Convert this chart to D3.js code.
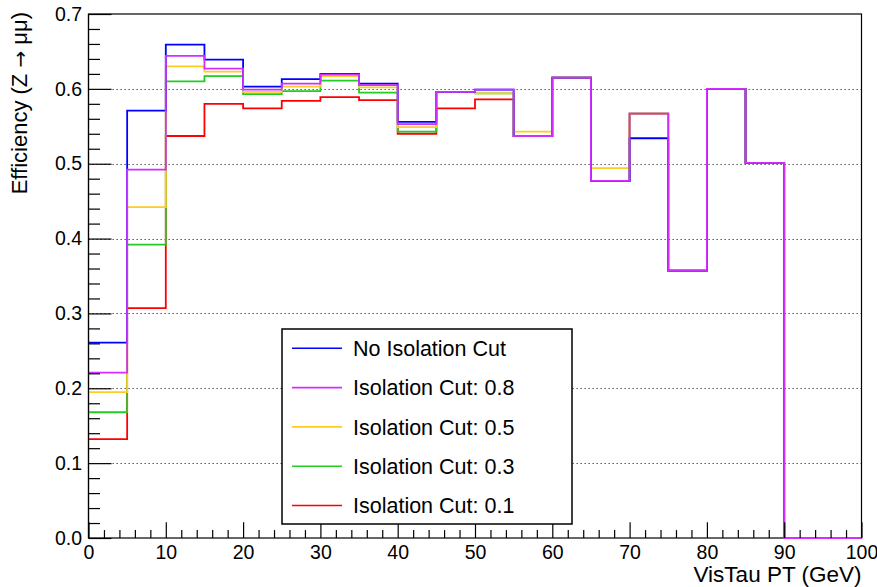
<!DOCTYPE html>
<html>
<head>
<meta charset="utf-8">
<script src="https://cdn.jsdelivr.net/npm/d3@7"></script>
<style>
  html, body { margin: 0; padding: 0; background: #fff; }
  svg { display: block; font-family: "Liberation Sans", Arial, Helvetica, sans-serif; }
</style>
</head>
<body>
<svg id="chart" width="877" height="587"></svg>
<script>
// ---- Data ----
const binEdges = [0,5,10,15,20,25,30,35,40,45,50,55,60,65,70,75,80,85,90,95,100];
const noIsoCut = [0.261,0.571,0.659,0.639,0.603,0.613,0.620,0.607,0.556,0.596,0.599,0.537,0.615,0.477,0.534,0.357,0.600,0.501,0,0];
const isoCut08 = [0.221,0.492,0.644,0.627,0.599,0.607,0.619,0.605,0.553,0.596,0.599,0.537,0.615,0.477,0.567,0.357,0.600,0.501,0,0];
const isoCut05 = [0.195,0.442,0.630,0.623,0.596,0.603,0.617,0.602,0.549,0.596,0.594,0.543,0.615,0.494,0.567,0.357,0.600,0.501,0,0];
const isoCut03 = [0.168,0.392,0.610,0.617,0.593,0.597,0.611,0.595,0.543,0.596,0.594,0.537,0.615,0.477,0.567,0.357,0.600,0.501,0,0];
const isoCut01 = [0.132,0.307,0.537,0.580,0.574,0.584,0.589,0.585,0.540,0.574,0.586,0.537,0.615,0.477,0.567,0.357,0.600,0.501,0,0];
const seriesNames = ["No Isolation Cut","Isolation Cut: 0.8","Isolation Cut: 0.5","Isolation Cut: 0.3","Isolation Cut: 0.1"];
const seriesColors = ["#0000ff","#d22eff","#ffcc22","#22cc22","#ff0000"];
const yTicks = [0,0.1,0.2,0.3,0.4,0.5,0.6,0.7];
const xTicks = [0,10,20,30,40,50,60,70,80,90,100];
const xTitle = "VisTau PT (GeV)";
const yTitleParts = ["Efficiency (Z ", "\u2192", " \u03bc\u03bc)"];

const seriesValues = [noIsoCut, isoCut08, isoCut05, isoCut03, isoCut01];
// draw order (bottom to top)
const drawOrder = [4,3,2,0,1];

const svg = d3.select("#chart");
const L = 88.5, R = 861.5, T = 14, B = 538;
const x = d3.scaleLinear().domain([0,100]).range([L,R]);
const y = d3.scaleLinear().domain([0,0.7]).range([B,T]);

// grid (horizontal dotted)
svg.append("g").selectAll("line")
  .data(yTicks.filter(v => v > 0 && v < 0.7))
  .join("line")
  .attr("x1", L).attr("x2", R)
  .attr("y1", d => Math.round(y(d)) + 0.5).attr("y2", d => Math.round(y(d)) + 0.5)
  .attr("stroke", "#444").attr("stroke-width", 1.2)
  .attr("stroke-dasharray", "1.3,2.7");

// frame
svg.append("rect")
  .attr("x", L).attr("y", T).attr("width", R - L).attr("height", B - T)
  .attr("fill", "none").attr("stroke", "#000").attr("stroke-width", 1.2);

// histograms
function histPath(vals) {
  let p = "";
  vals.forEach((v, i) => {
    p += `${i === 0 ? "M" : "L"}${x(binEdges[i])},${y(v)}L${x(binEdges[i+1])},${y(v)}`;
  });
  p += `L${x(binEdges[binEdges.length-1])},${y(0)}`;
  return p;
}
svg.append("g").selectAll("path")
  .data(drawOrder)
  .join("path")
  .attr("d", i => histPath(seriesValues[i]))
  .attr("fill", "none")
  .attr("stroke", i => seriesColors[i])
  .attr("stroke-width", 1.8);

// y axis
const yMinor = d3.range(0, 0.7001, 0.02).filter(v => Math.abs(v*10 - Math.round(v*10)) > 1e-6);
const yAx = svg.append("g").attr("transform", `translate(${L},0)`)
  .call(d3.axisLeft(y).tickValues(yTicks).tickSize(-23).tickPadding(6.5).tickFormat(d3.format(".1f")));
yAx.select(".domain").remove();
yAx.selectAll("text").attr("font-size", 19.5).attr("fill", "#000").attr("font-family", "Liberation Sans, Arial, sans-serif");
yAx.selectAll("line").attr("stroke", "#000").attr("stroke-width", 1.2);
const yAxm = svg.append("g").attr("transform", `translate(${L},0)`)
  .call(d3.axisLeft(y).tickValues(yMinor).tickSize(-11.5).tickFormat(""));
yAxm.select(".domain").remove();
yAxm.selectAll("line").attr("stroke", "#000").attr("stroke-width", 1.2);

// x axis
const xMinor = d3.range(0, 100.001, 2).filter(v => v % 10 !== 0);
const xAx = svg.append("g").attr("transform", `translate(0,${B})`)
  .call(d3.axisBottom(x).tickValues(xTicks).tickSize(-15.7).tickPadding(7.5).tickFormat(d3.format("d")));
xAx.select(".domain").remove();
xAx.selectAll("text").attr("font-size", 19.5).attr("fill", "#000").attr("font-family", "Liberation Sans, Arial, sans-serif");
xAx.selectAll("line").attr("stroke", "#000").attr("stroke-width", 1.2);
const xAxm = svg.append("g").attr("transform", `translate(0,${B})`)
  .call(d3.axisBottom(x).tickValues(xMinor).tickSize(-7.9).tickFormat(""));
xAxm.select(".domain").remove();
xAxm.selectAll("line").attr("stroke", "#000").attr("stroke-width", 1.2);

// left axis line
svg.append("line").attr("x1", L).attr("x2", L).attr("y1", T).attr("y2", B).attr("stroke", "#000").attr("stroke-width", 1.2);

// titles
svg.append("text")
  .attr("x", R).attr("y", 582)
  .attr("text-anchor", "end").attr("font-size", 22.5)
  .text(xTitle);
const yt = svg.append("text")
  .attr("transform", `translate(27,12) rotate(-90)`)
  .attr("text-anchor", "end").attr("font-size", 22);
yt.selectAll("tspan").data(yTitleParts).join("tspan")
  .attr("font-family", (d, i) => i === 1 ? "DejaVu Sans, sans-serif" : null)
  .attr("font-size", (d, i) => i === 1 ? 20 : null)
  .text(d => d);

// legend
const lg = svg.append("g");
lg.append("rect")
  .attr("x", 282).attr("y", 329).attr("width", 290).attr("height", 195)
  .attr("fill", "#fff").attr("stroke", "#000").attr("stroke-width", 1.5);
const rowY = d3.scaleLinear().domain([0,4]).range([348.3, 505.5]);
const rows = lg.selectAll("g.row").data(seriesNames.map((n,i)=>({n,i}))).join("g").attr("class","row");
rows.append("line")
  .attr("x1", 292).attr("x2", 342)
  .attr("y1", d => rowY(d.i)).attr("y2", d => rowY(d.i))
  .attr("stroke", d => seriesColors[d.i]).attr("stroke-width", 1.6);
rows.append("text")
  .attr("x", 353).attr("y", d => rowY(d.i) + 7.7)
  .attr("font-size", 21.5)
  .text(d => d.n);
</script>
</body>
</html>
